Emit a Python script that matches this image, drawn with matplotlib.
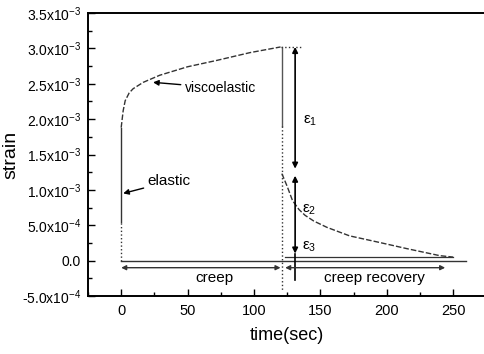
import numpy as np
import matplotlib.pyplot as plt
from matplotlib.ticker import MultipleLocator, FixedLocator, FixedFormatter

plt.rcParams['font.family'] = ['Liberation Sans', 'DejaVu Sans']
plt.rcParams['mathtext.default'] = 'regular'

# creep part (time in sec, strain in 1e-3)
t_creep = [0, 0.3, 0.8, 1.5, 3, 6, 9, 16.6, 29, 50, 72, 97, 120]
s_creep = [1.88, 1.93, 2.01, 2.12, 2.26, 2.37, 2.43, 2.52, 2.62, 2.74, 2.83, 2.94, 3.02]

# creep recovery part
t_rec = [121, 125, 129, 134, 138.5, 145, 155, 172, 195, 215, 240, 250]
s_rec = [1.23, 1.05, 0.85, 0.72, 0.64, 0.56, 0.47, 0.35, 0.255, 0.17, 0.07, 0.05]

# residual (eps3) level and zero baseline
t_resid = [123, 250]
s_resid = [0.05, 0.05]
t_base = [0, 260]
s_base = [0.0, 0.0]

# eps arrows
t_eps = 131
eps_levels = [3.02, 1.25, 0.1]
t_unload = 121

yticks = [-0.5, 0.0, 0.5, 1.0, 1.5, 2.0, 2.5, 3.0, 3.5]
ylabels = [r'-5.0x10$^{-4}$', '0.0', r'5.0x10$^{-4}$', r'1.0x10$^{-3}$', r'1.5x10$^{-3}$',
           r'2.0x10$^{-3}$', r'2.5x10$^{-3}$', r'3.0x10$^{-3}$', r'3.5x10$^{-3}$']

s_creep = np.array(s_creep) * 1e-3
s_rec = np.array(s_rec) * 1e-3
s_resid = np.array(s_resid) * 1e-3
eps_levels = np.array(eps_levels) * 1e-3

fig = plt.figure(figsize=(4.85, 3.54), dpi=100)
ax = fig.add_axes([88/485, 58/354, (485-88)/485, (296-13)/354])

c = '#333333'
dash = (0, (4, 1.5))

# elastic jump and creep curve
ax.plot([0, 0], [0.0, 0.55e-3], color=c, lw=1.0, linestyle=':')
ax.plot([0, 0], [0.55e-3, s_creep[0]], color=c, lw=1.0)
ax.plot(t_creep, s_creep, color=c, lw=1.0, linestyle=dash)
# unloading
ax.plot([t_unload, t_unload], [s_creep[-1], 1.9e-3], color='#555555', lw=1.0)
ax.plot([t_unload, t_unload], [1.9e-3, -0.42e-3], color=c, lw=1.0, linestyle=':')
ax.plot([t_creep[-1], 137], [s_creep[-1], s_creep[-1]], color=c, lw=1.0, linestyle=':')
# recovery
ax.plot(t_rec, s_rec, color=c, lw=1.0, linestyle=dash)
ax.plot(t_resid, s_resid, color=c, lw=0.9)
ax.plot(t_base, s_base, color=c, lw=1.0)

# eps arrows
ap = dict(arrowstyle='<|-|>', color='black', lw=1.2, mutation_scale=8, shrinkA=0, shrinkB=0)
ax.annotate('', xy=(t_eps, eps_levels[0]), xytext=(t_eps, eps_levels[1] + 0.05e-3), arrowprops=ap)
ax.annotate('', xy=(t_eps, eps_levels[1] - 0.05e-3), xytext=(t_eps, eps_levels[2]), arrowprops=ap)
ax.plot([t_eps, t_eps], [eps_levels[2], -0.28e-3], color='black', lw=1.2)

ax.text(137, 1.98e-3, r'$\epsilon_1$', fontsize=11, va='center')
ax.text(136, 0.72e-3, r'$\epsilon_2$', fontsize=11, va='center')
ax.text(136, 0.2e-3, r'$\epsilon_3$', fontsize=11, va='center')

# creep / recovery range arrows
ap2 = dict(arrowstyle='<|-|>', color=c, lw=1.0, mutation_scale=7, shrinkA=0, shrinkB=0)
ax.annotate('', xy=(0, -0.1e-3), xytext=(120, -0.1e-3), arrowprops=ap2)
ax.annotate('', xy=(123.5, -0.1e-3), xytext=(244, -0.1e-3), arrowprops=ap2)
ax.text(70, -0.25e-3, 'creep', fontsize=11, ha='center', va='center')
ax.text(191, -0.24e-3, 'creep recovery', fontsize=11, ha='center', va='center')

# labels with arrows
ax.annotate('viscoelastic', xy=(24, 2.52e-3), xytext=(48, 2.44e-3), fontsize=10,
            va='center', arrowprops=dict(arrowstyle='-|>', color='black', lw=1.0,
                                         mutation_scale=8, shrinkA=1, shrinkB=0))
ax.annotate('elastic', xy=(1.5, 0.95e-3), xytext=(20, 1.12e-3), fontsize=11,
            va='center', arrowprops=dict(arrowstyle='-|>', color='black', lw=1.0,
                                         mutation_scale=8, shrinkA=1, shrinkB=0))

ax.set_xlim(-25, 274)
ax.set_ylim(-0.5e-3, 3.5e-3)
ax.set_xticks([0, 50, 100, 150, 200, 250])
ax.xaxis.set_minor_locator(MultipleLocator(25))
ax.yaxis.set_major_locator(FixedLocator(np.array(yticks) * 1e-3))
ax.yaxis.set_major_formatter(FixedFormatter(ylabels))
ax.yaxis.set_minor_locator(MultipleLocator(0.25e-3))
ax.tick_params(which='both', direction='in', width=1.0)
ax.tick_params(which='major', length=5)
ax.tick_params(which='minor', length=3)
ax.tick_params(axis='x', labelsize=10.5, pad=6)
ax.tick_params(axis='y', labelsize=10, pad=5)
for sp in ['left', 'bottom', 'top']:
    ax.spines[sp].set_linewidth(1.4)
ax.spines['right'].set_visible(False)

ax.set_xlabel('time(sec)', fontsize=13, labelpad=6)
ax.set_ylabel('strain', fontsize=14, labelpad=2)

fig.savefig('out.png', dpi=100)
